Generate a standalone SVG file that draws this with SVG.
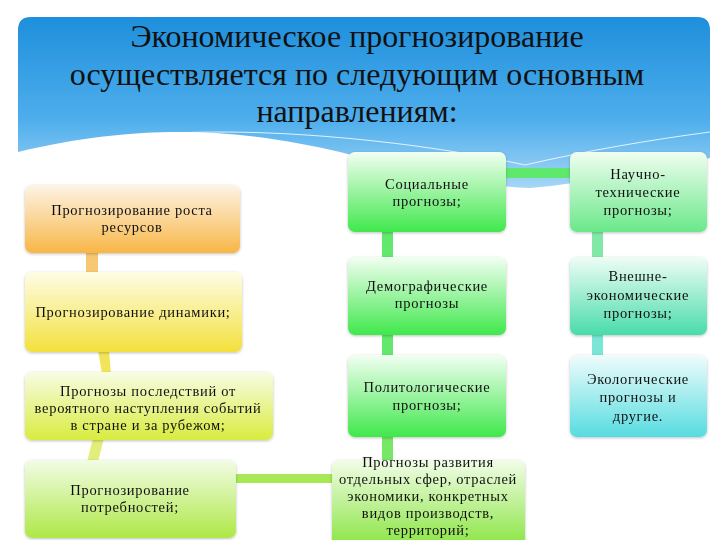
<svg xmlns="http://www.w3.org/2000/svg" width="720" height="540" viewBox="0 0 720 540">
<defs>
<linearGradient id="gSky" x1="0" y1="0" x2="0" y2="1">
<stop offset="0" stop-color="#1e8fdc"/><stop offset="0.6" stop-color="#4eaeec"/><stop offset="1" stop-color="#a6d6f6"/>
</linearGradient>
<linearGradient id="gOrange" x1="0" y1="0" x2="0" y2="1"><stop offset="0" stop-color="#fdf4e6"/><stop offset="1" stop-color="#f8b646"/></linearGradient>
<linearGradient id="gYellow" x1="0" y1="0" x2="0" y2="1"><stop offset="0" stop-color="#fefde6"/><stop offset="1" stop-color="#f3e03c"/></linearGradient>
<linearGradient id="gLime" x1="0" y1="0" x2="0" y2="1"><stop offset="0" stop-color="#f8fce4"/><stop offset="1" stop-color="#d8ec3e"/></linearGradient>
<linearGradient id="gYG" x1="0" y1="0" x2="0" y2="1"><stop offset="0" stop-color="#f2fce6"/><stop offset="1" stop-color="#aee846"/></linearGradient>
<linearGradient id="gGreen" x1="0" y1="0" x2="0" y2="1"><stop offset="0" stop-color="#f2fff2"/><stop offset="1" stop-color="#40e84c"/></linearGradient>
<linearGradient id="gGreen2" x1="0" y1="0" x2="0" y2="1"><stop offset="0" stop-color="#f2fde8"/><stop offset="1" stop-color="#86e43c"/></linearGradient>
<linearGradient id="gMint" x1="0" y1="0" x2="0" y2="1"><stop offset="0" stop-color="#f0fef0"/><stop offset="1" stop-color="#6ae88a"/></linearGradient>
<linearGradient id="gAqua" x1="0" y1="0" x2="0" y2="1"><stop offset="0" stop-color="#effdf6"/><stop offset="1" stop-color="#48dcaa"/></linearGradient>
<linearGradient id="gCyan" x1="0" y1="0" x2="0" y2="1"><stop offset="0" stop-color="#f0fcfc"/><stop offset="1" stop-color="#56dce0"/></linearGradient>
<filter id="soft" x="-10%" y="-10%" width="120%" height="130%">
<feGaussianBlur in="SourceAlpha" stdDeviation="1.5"/><feOffset dy="1"/>
<feComponentTransfer><feFuncA type="linear" slope="0.25"/></feComponentTransfer>
<feMerge><feMergeNode/><feMergeNode in="SourceGraphic"/></feMerge>
</filter>
</defs>
<style>
.t{font-family:"Liberation Serif","Times New Roman",serif;font-size:14.5px;fill:#111;text-anchor:middle;letter-spacing:0.7px}
.h{font-family:"Liberation Serif","Times New Roman",serif;font-size:32px;fill:#111;text-anchor:middle}
.box{filter:url(#soft)}
</style>
<rect width="720" height="540" fill="#ffffff"/>
<g id="background">
<path d="M18,30 Q18,17 31,17 L697,17 Q710,17 710,30 L710,158 C650,168 585,184 530,188 C470,186 410,170 340,152 C260,134 160,118 18,152 Z" fill="url(#gSky)"/>
<path d="M175,133 C280,128 420,142 525,165 C590,150 650,140 710,132" fill="none" stroke="#ffffff" stroke-width="1" opacity="0.8"/>
</g>
<g id="title">
<text class="h" x="357" y="47">Экономическое прогнозирование</text>
<text class="h" x="357" y="85">осуществляется по следующим основным</text>
<text class="h" x="357" y="122">направлениям:</text>
</g>
<g id="connectors">
<rect x="86" y="252" width="12" height="22" fill="#f6c872"/>
<polygon points="98,350 109,350 111,374 102,374" fill="#f2e45a"/>
<polygon points="93,438 104,438 98,462 87,462" fill="#e2ee7a"/>
<rect x="234" y="474" width="100" height="9" fill="#a8e854"/>
<rect x="504" y="168" width="68" height="10" fill="#5ee86c"/>
<rect x="382" y="230" width="11" height="29" fill="#62e86c"/>
<rect x="382" y="333" width="11" height="24" fill="#62e86c"/>
<rect x="382" y="435" width="11" height="27" fill="#78e666"/>
<rect x="592" y="230" width="11" height="29" fill="#82e8a8"/>
<rect x="592" y="333" width="11" height="24" fill="#7ae6d6"/>
</g>
<g id="n-resources" class="box">
<rect x="25" y="185" width="215" height="68" rx="7" fill="url(#gOrange)"/>
<text class="t" x="132" y="215">Прогнозирование роста</text>
<text class="t" x="132" y="232">ресурсов</text>
</g>
<g id="n-dynamics" class="box">
<rect x="25" y="272" width="217" height="80" rx="7" fill="url(#gYellow)"/>
<text class="t" x="133" y="317">Прогнозирование динамики;</text>
</g>
<g id="n-consequences" class="box">
<rect x="25" y="372" width="248" height="68" rx="7" fill="url(#gLime)"/>
<text class="t" x="148" y="396">Прогнозы последствий от</text>
<text class="t" x="148" y="413">вероятного наступления событий</text>
<text class="t" x="148" y="430">в стране и за рубежом;</text>
</g>
<g id="n-needs" class="box">
<rect x="25" y="460" width="211" height="78" rx="7" fill="url(#gYG)"/>
<text class="t" x="130" y="495">Прогнозирование</text>
<text class="t" x="130" y="512">потребностей;</text>
</g>
<g id="n-social" class="box">
<rect x="348" y="152" width="158" height="80" rx="7" fill="url(#gGreen)"/>
<text class="t" x="427" y="189">Социальные</text>
<text class="t" x="427" y="206">прогнозы;</text>
</g>
<g id="n-demographic" class="box">
<rect x="348" y="257" width="158" height="78" rx="7" fill="url(#gGreen)"/>
<text class="t" x="427" y="291">Демографические</text>
<text class="t" x="427" y="308">прогнозы</text>
</g>
<g id="n-political" class="box">
<rect x="348" y="355" width="158" height="82" rx="7" fill="url(#gGreen)"/>
<text class="t" x="427" y="392">Политологические</text>
<text class="t" x="427" y="410">прогнозы;</text>
</g>
<g id="n-sectors" class="box">
<rect x="332" y="460" width="193" height="90" rx="7" fill="url(#gGreen2)"/>
<text class="t" x="428" y="467">Прогнозы развития</text>
<text class="t" x="428" y="484">отдельных сфер, отраслей</text>
<text class="t" x="428" y="501">экономики, конкретных</text>
<text class="t" x="428" y="518">видов производств,</text>
<text class="t" x="428" y="535">территорий;</text>
</g>
<g id="n-scitech" class="box">
<rect x="570" y="152" width="137" height="80" rx="7" fill="url(#gMint)"/>
<text class="t" x="638" y="179">Научно-</text>
<text class="t" x="638" y="197">технические</text>
<text class="t" x="638" y="215">прогнозы;</text>
</g>
<g id="n-foreign" class="box">
<rect x="570" y="257" width="137" height="78" rx="7" fill="url(#gAqua)"/>
<text class="t" x="638" y="281">Внешне-</text>
<text class="t" x="638" y="300">экономические</text>
<text class="t" x="638" y="318">прогнозы;</text>
</g>
<g id="n-ecology" class="box">
<rect x="570" y="355" width="137" height="82" rx="7" fill="url(#gCyan)"/>
<text class="t" x="638" y="384">Экологические</text>
<text class="t" x="638" y="402">прогнозы и</text>
<text class="t" x="638" y="421">другие.</text>
</g>
</svg>
